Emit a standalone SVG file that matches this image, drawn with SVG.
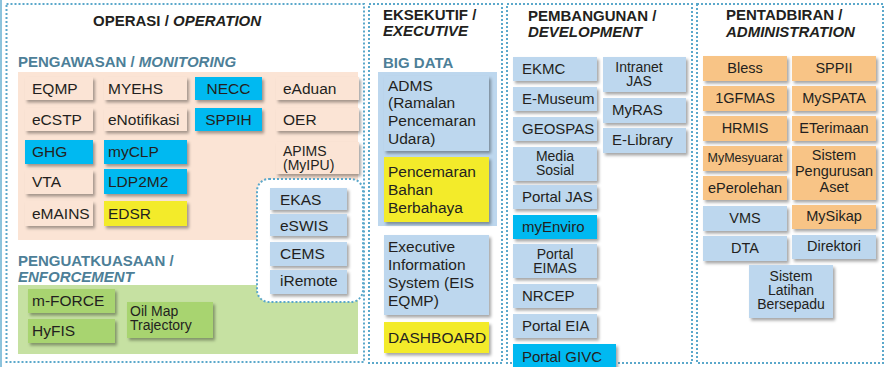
<svg xmlns="http://www.w3.org/2000/svg" width="886" height="367" viewBox="0 0 886 367">
<defs>
<filter id="sh" x="-10%" y="-10%" width="130%" height="140%">
<feDropShadow dx="2" dy="2.5" stdDeviation="1.4" flood-color="#000" flood-opacity="0.35"/>
</filter>
</defs>
<style>
.panel{fill:#fff;stroke:#5ba8cb;stroke-width:2;stroke-dasharray:2 2}
.h{font-family:"Liberation Sans",Arial,sans-serif;font-weight:bold;font-size:15px;fill:#231f20}
.sub{font-family:"Liberation Sans",Arial,sans-serif;font-weight:bold;font-size:15px;fill:#4d7f98}
.i{font-style:italic}
.t{font-family:"Liberation Sans",Arial,sans-serif;font-size:15.5px;fill:#231f20}
.t3{font-family:"Liberation Sans",Arial,sans-serif;font-size:15px;fill:#231f20}
.t4{font-family:"Liberation Sans",Arial,sans-serif;font-size:14.5px;fill:#231f20;text-anchor:middle}
.tt{font-size:14px}
.c{text-anchor:middle}
.pe{fill:#fbe4d5;filter:url(#sh)}
.cy{fill:#00b9f1;filter:url(#sh)}
.ye{fill:#f3eb2c;filter:url(#sh)}
.bl{fill:#bdd7ee;filter:url(#sh)}
.gr{fill:#a8d46f;filter:url(#sh)}
.or{fill:#f8c486;filter:url(#sh)}
</style>
<rect x="0" y="0" width="2" height="367" fill="#8cc3dc"/>
<!-- Panels -->
<g id="panel-operasi">
<rect class="panel" x="6.5" y="4" width="357.5" height="358"/>
<text class="h" x="93" y="26">OPERASI / <tspan class="i">OPERATION</tspan></text>
<text class="sub" x="18" y="67">PENGAWASAN / <tspan class="i">MONITORING</tspan></text>
<rect x="18" y="72" width="340" height="168" fill="#fbe4d5"/>
<text class="sub" x="18" y="266">PENGUATKUASAAN /</text>
<text class="sub i" x="18" y="282">ENFORCEMENT</text>
<rect x="18" y="285" width="340" height="69" fill="#c6e1a2"/>
</g>
<g id="panel-eksekutif">
<rect class="panel" x="369" y="4" width="133" height="359"/>
<text class="h" x="383" y="20">EKSEKUTIF /</text>
<text class="h i" x="383" y="36">EXECUTIVE</text>
<text class="sub" x="383" y="68">BIG DATA</text>
<rect x="378" y="72" width="119" height="154" fill="#bdd7ee"/>
</g>
<g id="panel-pembangunan">
<rect class="panel" x="507" y="4" width="185" height="359"/>
<text class="h" x="528" y="21">PEMBANGUNAN /</text>
<text class="h i" x="528" y="37">DEVELOPMENT</text>
</g>
<g id="panel-pentadbiran">
<rect class="panel" x="697" y="4" width="186" height="359"/>
<text class="h" x="726" y="20">PENTADBIRAN /</text>
<text class="h i" x="726" y="37">ADMINISTRATION</text>
</g>

<!-- Monitoring nodes -->
<g id="n-eqmp"><rect class="pe" x="25" y="77" width="68" height="23"/><text class="t" x="32" y="94">EQMP</text></g>
<g id="n-myehs"><rect class="pe" x="104" y="77" width="83" height="23"/><text class="t" x="108" y="94">MYEHS</text></g>
<g id="n-necc"><rect class="cy" x="195" y="77" width="67" height="23"/><text class="t c" x="228.5" y="94">NECC</text></g>
<g id="n-eaduan"><rect class="pe" x="276" y="77" width="83" height="23"/><text class="t" x="283" y="94">eAduan</text></g>
<g id="n-ecstp"><rect class="pe" x="25" y="108" width="68" height="23"/><text class="t" x="32" y="125">eCSTP</text></g>
<g id="n-enotifikasi"><rect class="pe" x="104" y="108" width="83" height="23"/><text class="t" x="108" y="125">eNotifikasi</text></g>
<g id="n-sppih"><rect class="cy" x="195" y="108" width="67" height="23"/><text class="t c" x="228.5" y="125">SPPIH</text></g>
<g id="n-oer"><rect class="pe" x="276" y="108" width="83" height="23"/><text class="t" x="283" y="125">OER</text></g>
<g id="n-ghg"><rect class="cy" x="25" y="140" width="68" height="24"/><text class="t" x="32" y="157">GHG</text></g>
<g id="n-myclp"><rect class="cy" x="104" y="140" width="83" height="24"/><text class="t" x="108" y="157">myCLP</text></g>
<g id="n-apims"><rect class="pe" x="276" y="142" width="83" height="32"/><text class="t tt" x="283" y="156">APIMS</text><text class="t tt" x="283" y="170">(MyIPU)</text></g>
<g id="n-vta"><rect class="pe" x="25" y="170" width="68" height="24"/><text class="t" x="32" y="187">VTA</text></g>
<g id="n-ldp2m2"><rect class="cy" x="104" y="169" width="83" height="25"/><text class="t" x="108" y="187">LDP2M2</text></g>
<g id="n-emains"><rect class="pe" x="25" y="201" width="68" height="25"/><text class="t" x="32" y="219">eMAINS</text></g>
<g id="n-edsr"><rect class="ye" x="104" y="201" width="83" height="25"/><text class="t" x="108" y="219">EDSR</text></g>

<!-- Enforcement nodes -->
<g id="n-mforce"><rect class="gr" x="28" y="289" width="87" height="24"/><text class="t" x="32" y="306">m-FORCE</text></g>
<g id="n-hyfis"><rect class="gr" x="28" y="319" width="87" height="24"/><text class="t" x="32" y="336">HyFIS</text></g>
<g id="n-oilmap"><rect class="gr" x="127" y="302" width="86" height="36"/><text class="t tt" x="130" y="316">Oil Map</text><text class="t tt" x="130" y="330">Trajectory</text></g>

<!-- EKAS group -->
<g id="group-ekas">
<rect class="panel" x="257" y="179" width="106" height="123" rx="12"/>
<g id="n-ekas"><rect class="bl" x="270" y="188" width="77" height="22"/><text class="t" x="280" y="205">EKAS</text></g>
<g id="n-eswis"><rect class="bl" x="270" y="214" width="77" height="22"/><text class="t" x="280" y="231">eSWIS</text></g>
<g id="n-cems"><rect class="bl" x="270" y="242" width="77" height="24"/><text class="t" x="280" y="259">CEMS</text></g>
<g id="n-iremote"><rect class="bl" x="270" y="270" width="77" height="24"/><text class="t" x="280" y="286">iRemote</text></g>
</g>

<!-- Executive nodes -->
<g id="n-adms"><rect class="bl" x="384" y="76" width="105" height="75"/>
<text class="t" x="388" y="91">ADMS</text><text class="t" x="388" y="108">(Ramalan</text><text class="t" x="388" y="126">Pencemaran</text><text class="t" x="388" y="144">Udara)</text></g>
<g id="n-pencemaran"><rect class="ye" x="384" y="157" width="105" height="65"/>
<text class="t" x="388" y="177">Pencemaran</text><text class="t" x="388" y="195">Bahan</text><text class="t" x="388" y="213">Berbahaya</text></g>
<g id="n-eis"><rect class="bl" x="384" y="235" width="105" height="80"/>
<text class="t" x="388" y="252">Executive</text><text class="t" x="388" y="270">Information</text><text class="t" x="388" y="288">System (EIS</text><text class="t" x="388" y="306">EQMP)</text></g>
<g id="n-dashboard"><rect class="ye" x="384" y="322" width="105" height="31"/><text class="t" x="388" y="343">DASHBOARD</text></g>

<!-- Development nodes -->
<g id="n-ekmc"><rect class="bl" x="513" y="57" width="84" height="24"/><text class="t3" x="522" y="74">EKMC</text></g>
<g id="n-emuseum"><rect class="bl" x="513" y="87" width="84" height="24"/><text class="t3" x="522" y="104">E-Museum</text></g>
<g id="n-geospas"><rect class="bl" x="513" y="117" width="84" height="24"/><text class="t3" x="522" y="134">GEOSPAS</text></g>
<g id="n-mediasosial"><rect class="bl" x="513" y="147" width="84" height="34"/><text class="t3 c tt" x="555" y="161">Media</text><text class="t3 c tt" x="555" y="175">Sosial</text></g>
<g id="n-portaljas"><rect class="bl" x="513" y="185" width="84" height="24"/><text class="t3" x="522" y="202">Portal JAS</text></g>
<g id="n-myenviro"><rect class="cy" x="513" y="215" width="84" height="24"/><text class="t3" x="522" y="232">myEnviro</text></g>
<g id="n-portaleimas"><rect class="bl" x="513" y="244" width="84" height="34"/><text class="t3 c tt" x="555" y="259">Portal</text><text class="t3 c tt" x="555" y="273">EIMAS</text></g>
<g id="n-nrcep"><rect class="bl" x="513" y="284" width="84" height="24"/><text class="t3" x="522" y="301">NRCEP</text></g>
<g id="n-portaleia"><rect class="bl" x="513" y="314" width="84" height="24"/><text class="t3" x="522" y="331">Portal EIA</text></g>
<g id="n-portalgivc"><rect class="cy" x="513" y="344" width="103" height="26"/><text class="t3" x="522" y="362">Portal GIVC</text></g>
<g id="n-intranetjas"><rect class="bl" x="603" y="57" width="83" height="35"/><text class="t3 c tt" x="639" y="72">Intranet</text><text class="t3 c tt" x="639" y="86">JAS</text></g>
<g id="n-myras"><rect class="bl" x="603" y="98" width="83" height="25"/><text class="t3" x="612" y="115">MyRAS</text></g>
<g id="n-elibrary"><rect class="bl" x="603" y="128" width="83" height="25"/><text class="t3" x="612" y="145">E-Library</text></g>

<!-- Administration nodes -->
<g id="n-bless"><rect class="or" x="703" y="56" width="84" height="25"/><text class="t4" x="745" y="73">Bless</text></g>
<g id="n-sppii"><rect class="or" x="792" y="56" width="84" height="25"/><text class="t4" x="834" y="73">SPPII</text></g>
<g id="n-1gfmas"><rect class="or" x="703" y="86" width="84" height="25"/><text class="t4" x="745" y="103">1GFMAS</text></g>
<g id="n-myspata"><rect class="or" x="792" y="86" width="84" height="25"/><text class="t4" x="834" y="103">MySPATA</text></g>
<g id="n-hrmis"><rect class="or" x="703" y="116" width="84" height="25"/><text class="t4" x="745" y="133">HRMIS</text></g>
<g id="n-eterimaan"><rect class="or" x="792" y="116" width="84" height="25"/><text class="t4" x="834" y="133">ETerimaan</text></g>
<g id="n-mymesyuarat"><rect class="or" x="703" y="146" width="84" height="25"/><text class="t4" x="745" y="162" style="font-size:12.5px">MyMesyuarat</text></g>
<g id="n-sistempengurusan"><rect class="or" x="792" y="146" width="84" height="54"/><text class="t4" x="834" y="160">Sistem</text><text class="t4" x="834" y="176">Pengurusan</text><text class="t4" x="834" y="192">Aset</text></g>
<g id="n-eperolehan"><rect class="or" x="703" y="176" width="84" height="24"/><text class="t4" x="745" y="193">ePerolehan</text></g>
<g id="n-vms"><rect class="bl" x="703" y="206" width="84" height="25"/><text class="t4" x="745" y="223">VMS</text></g>
<g id="n-mysikap"><rect class="or" x="792" y="205" width="84" height="24"/><text class="t4" x="834" y="221">MySikap</text></g>
<g id="n-dta"><rect class="bl" x="703" y="236" width="84" height="25"/><text class="t4" x="745" y="253">DTA</text></g>
<g id="n-direktori"><rect class="bl" x="792" y="235" width="84" height="24"/><text class="t4" x="834" y="251">Direktori</text></g>
<g id="n-sistemlatihan"><rect class="bl" x="749" y="265" width="84" height="53"/><text class="t4 tt" x="791" y="281">Sistem</text><text class="t4 tt" x="791" y="295">Latihan</text><text class="t4 tt" x="791" y="309">Bersepadu</text></g>

<g id="connectors"/>
</svg>
